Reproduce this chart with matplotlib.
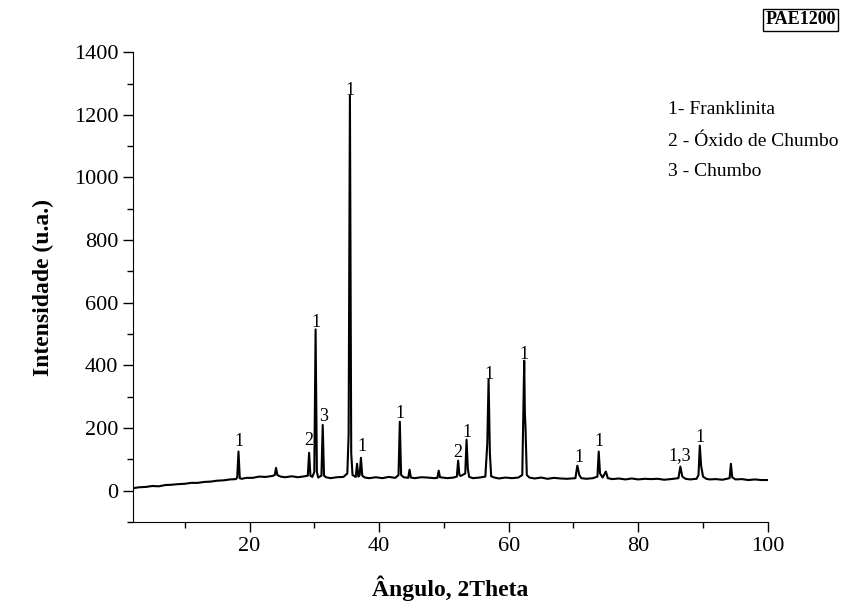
import numpy as np
import matplotlib
matplotlib.use('Agg')
import matplotlib.pyplot as plt
from matplotlib.ticker import MultipleLocator

plt.rcParams['font.family'] = ['Liberation Serif', 'DejaVu Serif']

# Background readings (2Theta, intensity)
bg_x = [2.0, 3, 4, 5, 6, 7, 8, 9, 10, 11, 12, 13, 14, 15, 16, 17, 17.9,
        18.8, 19.5, 20.5, 21.5, 22.5, 23.5, 24.8, 25.5, 26.5, 27.5, 28.5,
        29.7, 30.6, 31.8, 32.5, 33.5, 34.5, 35.9, 36.4, 36.8, 37.8, 38.5,
        39.5, 40.5, 41.5, 42.5, 43.8, 44.5, 44.9, 45.5, 46.5, 47.5, 48.5,
        49.0, 49.4, 50.5, 51.5, 52.6, 53.9, 54.5, 55.5, 57.3, 57.8, 58.5, 59.5,
        60.5, 61.5, 63.2, 64, 65, 66, 67, 68, 69, 71.2, 72, 73, 74.5,
        75.3, 76, 77, 78, 79, 80, 81, 82, 83, 84, 85, 87.3, 88, 89, 90.5,
        91, 92, 93, 94.5, 95, 96, 97, 98, 99, 100]
bg_y = [8, 11, 12, 15, 14, 18, 19, 21, 22, 25, 25, 28, 29, 32, 33, 36, 37,
        38, 41, 41, 45, 44, 47, 45, 43, 46, 43, 46,
        44, 42, 43, 40, 43, 44, 50, 44, 45, 42, 40,
        43, 40, 44, 41, 43, 41, 42, 40, 43, 42, 40,
        41, 43, 40, 42, 47, 44, 40, 42, 46, 42, 39, 42,
        40, 42, 42, 39, 42, 38, 41, 39, 38, 40, 38, 40, 42,
        40, 37, 39, 36, 39, 36, 38, 37, 38, 35, 37, 38, 36, 38, 38,
        36, 37, 35, 43, 36, 37, 34, 36, 34, 34]

# Peak profile readings (2Theta, intensity)
pk_x = [18.1, 18.3, 18.5, 23.9, 24.1, 24.3, 29.0, 29.2, 29.4,
        30.0, 30.2, 30.4, 31.1, 31.3, 31.5, 35.1, 35.3, 35.5, 35.7,
        36.6, 37.0, 37.2, 37.4, 43.0, 43.2, 43.4, 44.7, 49.2,
        52.0, 52.2, 52.4, 53.3, 53.5, 53.7, 56.4, 56.7, 56.9, 57.1,
        62.1, 62.4, 62.5, 62.6, 62.8, 70.3, 70.6, 70.9, 73.7, 73.9, 74.1,
        75.0, 86.2, 86.5, 86.8, 89.3, 89.5, 89.7, 90.0, 94.1, 94.3]
pk_y = [42, 125, 40, 50, 73, 50, 48, 121, 48,
        60, 515, 60, 48, 210, 48, 55, 180, 1262, 120,
        86, 50, 105, 48, 50, 220, 50, 67, 64,
        45, 96, 50, 55, 163, 70, 45, 150, 355, 120,
        50, 415, 250, 200, 50, 40, 80, 50, 45, 125, 55,
        61, 40, 77, 45, 50, 144, 80, 45, 40, 86]

# Phase labels above peaks
label_x = [18.3, 29.2, 30.2, 31.4, 35.5, 37.3, 43.2, 52.1, 53.6, 56.9,
           62.4, 70.9, 73.9, 86.4, 89.5]
label_y = [157, 160, 537, 236, 1278, 141, 246, 121, 185, 371,
           435, 105, 157, 112, 169]
label_text = ['1', '2', '1', '3', '1', '1', '1', '2', '1', '1',
              '1', '1', '1', '1,3', '1']

legend_lines = ['1- Franklinita', '2 - Óxido de Chumbo', '3 - Chumbo']

# Merge background and peak readings into one trace
two_theta = np.array(bg_x + pk_x)
intensity = np.array(bg_y + pk_y)
order = np.argsort(two_theta, kind='stable')
two_theta = two_theta[order]
intensity = intensity[order]

fig = plt.figure(figsize=(8.41, 6.07), dpi=100)
ax = fig.add_axes([0.158, 0.14, 0.755, 0.774])

ax.plot(two_theta, intensity, color='black', linewidth=1.5)

for x, y, t in zip(label_x, label_y, label_text):
    ax.text(x, y, t, ha='center', va='center', fontsize=13)

ax.set_xlim(2, 100)
ax.set_ylim(-100, 1400)
ax.xaxis.set_major_locator(MultipleLocator(20))
ax.xaxis.set_minor_locator(MultipleLocator(10))
ax.yaxis.set_major_locator(MultipleLocator(200))
ax.yaxis.set_minor_locator(MultipleLocator(100))
ax.tick_params(which='major', direction='out', length=7, width=1, labelsize=16)
ax.tick_params(which='minor', direction='out', length=4, width=1)

ax.spines['top'].set_visible(False)
ax.spines['right'].set_visible(False)

ax.set_xlabel('Ângulo, 2Theta', fontsize=17, fontweight='bold', labelpad=14)
ax.set_ylabel('Intensidade (u.a.)', fontsize=17, fontweight='bold', labelpad=14)

# Legend of phases
for i, line in enumerate(legend_lines):
    fig.text(0.794, 1 - (110 + i * 31) / 607, line, fontsize=14, va='center', ha='left')

# Sample tag
fig.text(0.952, 1 - 20 / 607, 'PAE1200', fontsize=13, fontweight='bold',
         ha='center', va='center',
         bbox=dict(boxstyle='square,pad=0.12', facecolor='white', edgecolor='black', linewidth=1))

fig.savefig('out.png', dpi=100)
